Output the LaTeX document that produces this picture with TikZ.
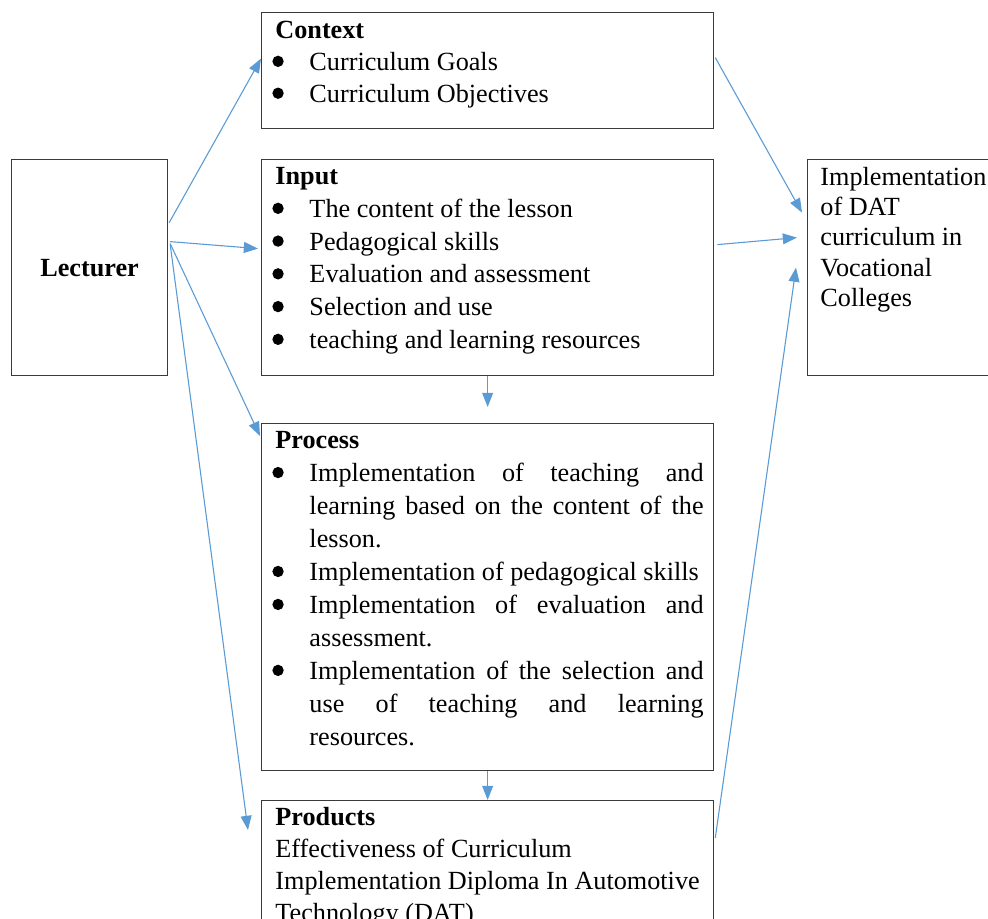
\documentclass[tikz,border=0pt]{standalone}
\usepackage{fontspec}
\setmainfont{Liberation Serif}
\usetikzlibrary{arrows.meta,calc}
\definecolor{arrowblue}{HTML}{5B9BD5}
\definecolor{boxgray}{HTML}{3A3A3A}
\newcommand{\bdot}{\tikz[baseline=0pt, x=1pt, y=1pt]\fill (2.5,4.1) circle[radius=2.6];}
\newcommand{\bul}{\makebox[15.6pt][l]{\hspace*{-1.4pt}\bdot}}
\newcommand{\ind}{\hspace*{15.6pt}}
\newcommand{\jst}[1]{\makebox[180.5pt][s]{#1}}
\newcommand{\lead}[1]{\spaceskip=0pt\xspaceskip=0pt\relax\rule{0pt}{#1}}
\begin{document}
\begin{tikzpicture}[>={Triangle[length=6.5pt,width=5pt]}, x=0.458pt, y=-0.458pt,
    box/.style={draw=boxgray, line width=0.6pt, anchor=north west, inner sep=0pt, font=\fontsize{12pt}{14pt}\selectfont},
    txt/.style={anchor=north west, inner sep=0pt, align=left, text width=205pt, font=\fontsize{12pt}{#1}\selectfont},
    link/.style={->, arrowblue, line width=0.5pt}]
        % Frame
        \useasboundingbox (0,0) rectangle (988,919);
        % Boxes
        \node[box, minimum width=71.4pt, minimum height=98.9pt] (lect) at (11,159) {\textbf{Lecturer}};
        \node[box, minimum width=207pt, minimum height=53.1pt] (ctx) at (261,12) {};
        \node[box, minimum width=207pt, minimum height=98.9pt] (inp) at (261,159) {};
        \node[box, minimum width=207pt, minimum height=158.9pt] (proc) at (261,423) {};
        \node[box, minimum width=207pt, minimum height=72pt] (prod) at (261,800) {};
        \node[box, minimum width=92pt, minimum height=98.9pt] (impl) at (807,159) {};
        % Texts
        \node[txt=14.6pt] (ctxtxt) at (275,12) {\lead{11.9pt}\textbf{Context}\\
            \bul Curriculum Goals\\
            \bul Curriculum Objectives};
        \node[txt=15pt] (inptxt) at (275,159) {\lead{11.5pt}\textbf{Input}\\
            \bul The content of the lesson\\
            \bul Pedagogical skills\\
            \bul Evaluation and assessment\\
            \bul Selection and use\\
            \bul teaching and learning resources};
        \node[txt=15.1pt] (proctxt) at (275,423) {\lead{11.5pt}\textbf{Process}\\
            \bul\jst{Implementation of teaching and}\\
            \ind\jst{learning based on the content of the}\\
            \ind lesson.\\
            \bul Implementation of pedagogical skills\\
            \bul\jst{Implementation of evaluation and}\\
            \ind assessment.\\
            \bul\jst{Implementation of the selection and}\\
            \ind\jst{use of teaching and learning}\\
            \ind resources.};
        \node[txt=14.6pt] (prodtxt) at (275,800) {\lead{11.5pt}\textbf{Products}\\
            Effectiveness of Curriculum\\
            Implementation Diploma In Automotive\\
            Technology (DAT)};
        \node[txt=13.8pt, text width=90pt] (impltxt) at (820,159) {\lead{12pt}Implementation\\
            of DAT\\
            curriculum in\\
            Vocational\\
            Colleges};
        % Arrows from Lecturer
        \draw[link] ($(lect.east)+(1,-45)$) -- ($(ctx.west)+(0,-12)$);
        \draw[link] ($(lect.east)+(2,-26)$) -- ($(inp.west)+(-3,-19)$);
        \draw[link] ($(lect.east)+(2,-24)$) -- ($(proc.north west)+(-1,13)$);
        \draw[link] ($(lect.east)+(2,-23)$) -- ($(prod.north west)+(-13,30)$);
        % Arrows to Implementation
        \draw[link] ($(ctx.east)+(1,-13)$) -- ($(impl.west)+(-5,-55)$);
        \draw[link] ($(inp.east)+(3,-23)$) -- ($(impl.west)+(-10,-30)$);
        \draw[link] ($(prod.north east)+(1,38)$) -- ($(impl.west)+(-11,0)$);
        % Arrows down the middle
        \draw[link] (inp.south) -- ($(proc.north)+(0,-16)$);
        \draw[link] (proc.south) -- (prod.north);
\end{tikzpicture}
\end{document}
